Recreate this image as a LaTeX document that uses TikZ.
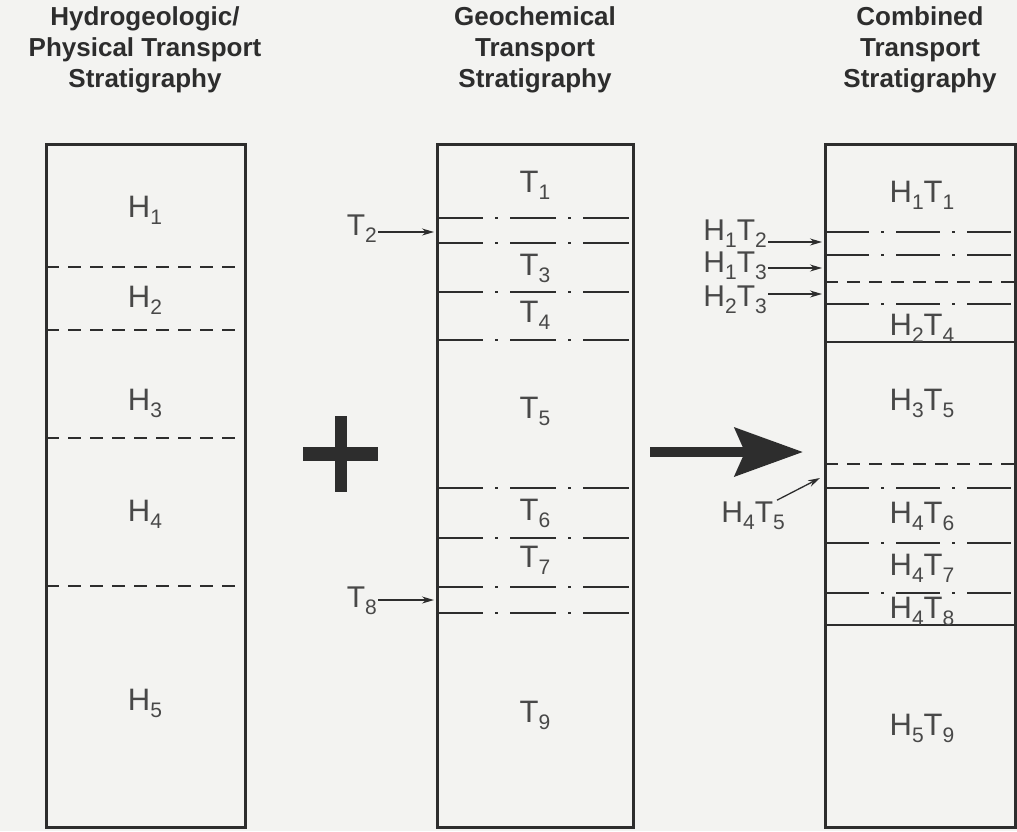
\documentclass[tikz,border=0pt]{standalone}
\usepackage{fontspec}
\setmainfont{Liberation Sans}
\usetikzlibrary{arrows.meta, positioning, calc}
\definecolor{BG}{RGB}{243,243,241}
\definecolor{DG}{RGB}{45,45,45}
\definecolor{TG}{RGB}{72,72,72}
% lowered index for the unit names
\newcommand{\sbs}[1]{\raisebox{-7pt}{\fontsize{21}{21}\selectfont #1}}

\begin{document}
\begin{tikzpicture}[x=1pt, y=-1pt,
  col/.style={draw=DG, line width=3pt, minimum width=#1, minimum height=683pt,
              inner sep=0pt, outer sep=0pt},
  ttl/.style={font=\fontsize{26}{31}\selectfont\bfseries, text=DG, align=center},
  lbl/.style={font=\fontsize{31}{31}\selectfont, text=TG, inner sep=1pt, anchor=base},
  slbl/.style={font=\fontsize{30}{30}\selectfont, text=TG, inner sep=1pt, anchor=base east},
  hbound/.style={DG, line width=1.8pt, dash pattern=on 13pt off 9pt},
  tbound/.style={DG, line width=1.8pt, dash pattern=on 46pt off 12pt on 3pt off 12pt},
  cdbound/.style={DG, line width=1.8pt, dash pattern=on 44pt off 12pt on 3pt off 12pt},
  cbound/.style={DG, line width=1.8pt},
  ptr/.style={-{Stealth[length=12pt,width=7pt]}, DG, line width=1.3pt, shorten >=3pt}
]
\fill[BG] (0,0) rectangle (1017,831);
\useasboundingbox (0,0) rectangle (1017,831);

% Column titles
\node[ttl] (httl) at (145,50) {Hydrogeologic/\\Physical Transport\\Stratigraphy};
\node[ttl] (tttl) at (535,50) {Geochemical\\Transport\\Stratigraphy};
\node[ttl] (cttl) at (920,50) {Combined\\Transport\\Stratigraphy};

% Columns
\node[col=199pt] (hcol) at (145.5,485.5) {};
\node[col=196pt] (tcol) at (535,485.5) {};
\node[col=190pt] (ccol) at (920,485.5) {};

% Hydrogeologic units
\foreach \y in {267,330,438,586}
  \draw[hbound] (hcol.west |- 0,\y) -- (hcol.east |- 0,\y);
\foreach \i/\y in {1/217,2/307,3/410,4/521,5/710}
  \node[lbl] (h\i) at (145,\y) {H\sbs{\i}};

% Geochemical units
\foreach \y in {218,243,292,340,488,538,587,613}
  \draw[tbound] (tcol.west |- 0,\y) -- (tcol.east |- 0,\y);
\foreach \i/\y in {1/192,3/275,4/322,5/418,6/520,7/567,9/722}
  \node[lbl] (t\i) at (535,\y) {T\sbs{\i}};
\node[slbl] (t2) at (378,235) {T\sbs{2}};
\node[slbl] (t8) at (378,607) {T\sbs{8}};
\draw[ptr] (t2.east |- 0,232) -- (tcol.west |- 0,232);
\draw[ptr] (t8.east |- 0,600) -- (tcol.west |- 0,600);

% Plus and combine arrow
\draw[DG, line width=14pt] (303,454) -- (378,454);
\draw[DG, line width=12pt] (341,416) -- (341,492);
\draw[DG, line width=10pt, -{Stealth[length=68pt,width=48pt,inset=10pt]}]
  (650,452) -- (803,452);

% Combined units
\foreach \y in {232,255,304,488,543,593}
  \draw[cdbound] (ccol.west |- 0,\y) -- (ccol.east |- 0,\y);
\foreach \y in {282,464}
  \draw[hbound] (ccol.west |- 0,\y) -- (ccol.east |- 0,\y);
\foreach \y in {342,625}
  \draw[cbound] (ccol.west |- 0,\y) -- (ccol.east |- 0,\y);
\foreach \n/\h/\t/\y in {c11/1/1/202,c24/2/4/335,c35/3/5/410,c46/4/6/523,
                          c47/4/7/575,c48/4/8/618,c59/5/9/735}
  \node[lbl] (\n) at (922,\y) {H\sbs{\h}T\sbs{\t}};
\node[slbl] (c12) at (768,240) {H\sbs{1}T\sbs{2}};
\node[slbl] (c13) at (768,272) {H\sbs{1}T\sbs{3}};
\node[slbl] (c23) at (768,306) {H\sbs{2}T\sbs{3}};
\node[slbl] (c45) at (786,522) {H\sbs{4}T\sbs{5}};
\draw[ptr] (c12.east |- 0,242) -- (ccol.west |- 0,242);
\draw[ptr] (c13.east |- 0,268) -- (ccol.west |- 0,268);
\draw[ptr] (c23.east |- 0,294) -- (ccol.west |- 0,294);
\coordinate (c45tip) at (820,478);
\draw[ptr, shorten >=0pt] ([xshift=-9pt]c45.north east) -- (c45tip);
\end{tikzpicture}
\end{document}
